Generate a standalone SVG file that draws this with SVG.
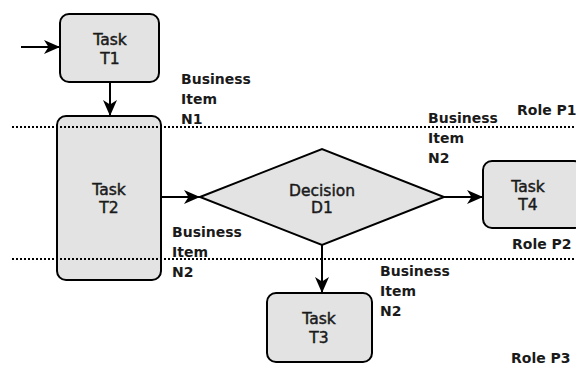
<svg xmlns="http://www.w3.org/2000/svg" width="576" height="371" viewBox="0 0 576 371">
  <defs>
    <marker id="arrow" markerUnits="userSpaceOnUse" markerWidth="17" markerHeight="16" refX="16" refY="7.5" orient="auto">
      <path d="M0,0.5 L16,7.5 L0,14.5 L4.5,7.5 z" fill="#000"/>
    </marker>
    <style>
      .node { fill: #e3e3e3; stroke: #000; stroke-width: 2; }
      .lane { stroke: #000; stroke-width: 2; stroke-dasharray: 2 2; fill: none; }
      .flow { stroke: #000; stroke-width: 2; fill: none; marker-end: url(#arrow); }
      .lbl { font-family: "DejaVu Sans", Verdana, sans-serif; font-size: 15.5px; fill: #1a1a1a; stroke: #1a1a1a; stroke-width: 0.45; text-anchor: middle; }
      .note { font-family: "DejaVu Sans", Verdana, sans-serif; font-size: 14px; font-weight: bold; fill: #1a1a1a; }
    </style>
  </defs>
  <rect width="576" height="371" fill="#fff"/>

  <!-- node shapes -->
  <g id="T2">
    <rect class="node" x="57" y="116" width="104" height="164" rx="9"/>
    <text class="lbl" x="109" y="195">Task</text>
    <text class="lbl" x="109" y="213">T2</text>
  </g>

  <!-- swimlane separators -->
  <g id="lanes">
    <line class="lane" x1="12" y1="127" x2="576" y2="127"/>
    <line class="lane" x1="12" y1="259" x2="576" y2="259"/>
  </g>

  <g id="T1">
    <rect class="node" x="60" y="14" width="99" height="68" rx="9"/>
    <text class="lbl" x="110" y="45">Task</text>
    <text class="lbl" x="110" y="64">T1</text>
  </g>

  <g id="D1">
    <polygon class="node" points="200,197 322,149 444,197 322,245"/>
    <text class="lbl" x="322" y="196">Decision</text>
    <text class="lbl" x="322" y="213">D1</text>
  </g>

  <g id="T4">
    <rect class="node" x="483" y="161" width="100" height="67" rx="9"/>
    <text class="lbl" x="528" y="192">Task</text>
    <text class="lbl" x="528" y="210">T4</text>
  </g>

  <g id="T3">
    <rect class="node" x="267" y="293" width="105" height="69" rx="9"/>
    <text class="lbl" x="319" y="324">Task</text>
    <text class="lbl" x="319" y="343">T3</text>
  </g>

  <!-- connectors -->
  <g id="connectors">
    <line class="flow" x1="21" y1="47" x2="60" y2="47"/>
    <line class="flow" x1="110" y1="82" x2="110" y2="116"/>
    <line class="flow" x1="161" y1="197" x2="200" y2="197"/>
    <line class="flow" x1="444" y1="197" x2="483" y2="197"/>
    <line class="flow" x1="322" y1="245" x2="322" y2="293"/>
  </g>

  <!-- business items and role labels -->
  <g id="N1-item">
    <text class="note" x="181" y="84">Business</text>
    <text class="note" x="181" y="104">Item</text>
    <text class="note" x="181" y="124">N1</text>
  </g>
  <g id="N2-top">
    <text class="note" x="428" y="123">Business</text>
    <text class="note" x="428" y="143">Item</text>
    <text class="note" x="428" y="163">N2</text>
  </g>
  <g id="N2-left">
    <text class="note" x="172" y="237">Business</text>
    <text class="note" x="172" y="257">Item</text>
    <text class="note" x="172" y="277">N2</text>
  </g>
  <g id="N2-bottom">
    <text class="note" x="380" y="276">Business</text>
    <text class="note" x="380" y="296">Item</text>
    <text class="note" x="380" y="316">N2</text>
  </g>
  <g id="roles">
    <text class="note" x="517" y="115">Role P1</text>
    <text class="note" x="512" y="249">Role P2</text>
    <text class="note" x="511" y="363">Role P3</text>
  </g>
</svg>
